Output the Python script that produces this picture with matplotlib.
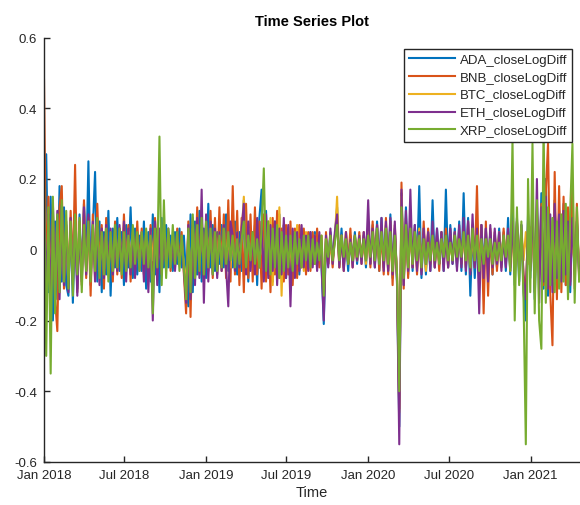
import pandas as pd
import matplotlib.pyplot as plt
import matplotlib.dates as mdates

plt.rcParams['font.family'] = ['Liberation Sans', 'DejaVu Sans']

# log-diff of daily close, every 5 days
dates = pd.date_range('2018-01-01', periods=242, freq='5D')

ada = [0.10, 0.27, -0.12, 0.15, -0.20, 0.08, -0.14, 0.18, -0.09, 0.12, -0.10,
       -0.13, 0.09, -0.15, 0.07, -0.11, 0.10, -0.08, 0.13, -0.06, 0.25, -0.10,
       0.06, 0.22, -0.09, 0.08, -0.12, 0.05, -0.07, 0.11, -0.13, 0.06, -0.05,
       0.09, -0.06, 0.05, -0.10, 0.07, -0.05, 0.12, -0.08, 0.06, -0.07, 0.04,
       -0.06, 0.08, -0.11, 0.05, -0.09, 0.10, -0.07, 0.06, -0.12, 0.09, -0.05,
       0.07, -0.05, 0.04, -0.06, 0.05, -0.04, 0.06, -0.05, 0.04, -0.08, -0.16,
       0.10, -0.12, 0.08, -0.07, 0.11, -0.09, 0.06, -0.08, 0.13, -0.05, 0.07,
       -0.06, 0.05, -0.04, 0.07, -0.05, 0.10, -0.06, 0.04, -0.05, 0.08, -0.07,
       0.05, -0.06, 0.14, 0.08, -0.09, 0.06, -0.05, 0.07, -0.10, 0.09, 0.17,
       -0.08, 0.11, -0.07, 0.06, -0.09, 0.08, -0.05, 0.10, -0.06, 0.07, -0.08,
       0.06, -0.09, 0.05, -0.06, 0.04, -0.07, 0.06, -0.05, 0.03, -0.04, 0.05,
       -0.04, 0.05, -0.03, 0.04, -0.05, -0.21, 0.03, -0.04, 0.05, -0.03, 0.04,
       0.12, -0.04, 0.06, -0.05, 0.03, -0.06, 0.04, -0.03, 0.05, -0.04, 0.03,
       -0.03, 0.04, -0.05, 0.06, -0.04, 0.07, -0.05, 0.08, -0.06, 0.09, -0.05,
       0.07, -0.06, 0.10, -0.08, 0.06, -0.09, -0.50, 0.16, -0.10, 0.12, -0.07,
       0.09, -0.06, 0.07, -0.05, 0.18, -0.08, 0.06, -0.07, 0.05, -0.06, 0.14,
       -0.05, 0.06, -0.04, 0.05, -0.06, 0.17, -0.05, 0.07, -0.04, 0.06, -0.05,
       0.08, -0.06, 0.16, -0.07, 0.09, -0.13, 0.06, -0.08, 0.05, -0.06, 0.07,
       -0.05, 0.06, -0.04, 0.05, -0.07, 0.04, -0.05, 0.06, -0.04, 0.05, -0.06,
       0.09, -0.07, 0.15, -0.10, 0.08, -0.09, 0.07, -0.12, -0.20, 0.10, -0.08,
       0.12, -0.14, 0.10, -0.09, 0.16, -0.11, 0.20, -0.13, 0.09, -0.10, 0.14,
       -0.09, 0.11, -0.08, 0.13, -0.10, 0.09, -0.12, 0.10, -0.07, 0.08, -0.06]

bnb = [0.48, -0.10, 0.15, -0.12, 0.09, -0.14, -0.23, 0.12, 0.18, -0.11, 0.07,
       -0.09, 0.11, -0.07, 0.24, -0.12, 0.08, -0.10, 0.14, -0.08, 0.09, -0.13,
       0.10, -0.08, 0.13, -0.06, 0.07, -0.11, 0.09, -0.07, 0.05, -0.09, 0.08,
       -0.07, 0.06, -0.08, 0.10, -0.05, 0.07, -0.09, 0.05, -0.06, 0.08, -0.05,
       0.06, -0.07, 0.05, -0.08, 0.07, -0.06, 0.09, -0.05, 0.04, -0.07, 0.06,
       -0.04, 0.05, -0.06, 0.04, -0.05, 0.06, -0.04, 0.05, -0.07, -0.18, 0.08,
       -0.19, 0.09, -0.08, 0.12, -0.07, 0.10, -0.09, 0.08, -0.06, 0.11, -0.08,
       0.09, -0.07, 0.12, -0.06, 0.10, -0.08, 0.14, -0.09, 0.18, -0.07, 0.11,
       -0.10, 0.09, -0.12, 0.13, -0.08, 0.10, -0.09, 0.12, -0.07, 0.08, -0.11,
       0.10, -0.09, 0.08, -0.12, 0.09, -0.07, 0.11, -0.08, 0.06, -0.09, 0.07,
       -0.07, 0.08, -0.10, 0.06, -0.08, 0.07, -0.05, 0.06, -0.07, 0.05, -0.06,
       0.05, -0.04, 0.06, -0.05, 0.04, -0.16, 0.05, -0.04, 0.03, -0.05, 0.04,
       0.08, -0.05, 0.04, -0.06, 0.05, -0.04, 0.06, -0.05, 0.04, -0.03, 0.05,
       -0.04, 0.05, -0.03, 0.06, -0.05, 0.08, -0.04, 0.07, -0.06, 0.05, -0.07,
       0.09, -0.07, 0.08, -0.10, 0.07, -0.08, -0.45, 0.19, -0.11, 0.09, -0.08,
       0.07, -0.05, 0.06, -0.07, 0.05, -0.06, 0.08, -0.05, 0.06, -0.04, 0.05,
       -0.05, 0.04, -0.06, 0.05, -0.04, 0.06, -0.05, 0.04, -0.03, 0.05, -0.04,
       0.05, -0.04, 0.06, -0.05, 0.08, -0.06, 0.07, -0.05, 0.18, -0.09, 0.07,
       -0.18, 0.08, -0.13, 0.06, -0.07, 0.05, -0.06, 0.04, -0.05, 0.06, -0.04,
       0.05, -0.06, 0.07, -0.05, 0.08, -0.06, 0.05, -0.07, -0.12, 0.06, -0.05,
       0.08, -0.09, 0.11, -0.07, 0.13, -0.10, 0.16, 0.30, -0.12, -0.27, 0.22,
       -0.14, 0.18, -0.12, 0.15, -0.10, 0.12, -0.09, 0.20, -0.11, 0.13, -0.08]

btc = [0.12, -0.09, 0.08, -0.14, 0.10, -0.07, 0.09, -0.11, 0.06, -0.08, 0.07,
       -0.07, 0.08, -0.06, 0.09, -0.08, 0.05, -0.07, 0.10, -0.05, 0.06, -0.07,
       0.05, -0.04, 0.06, -0.05, 0.04, -0.06, 0.05, -0.04, 0.03, -0.05, 0.04,
       -0.04, 0.05, -0.03, 0.06, -0.04, 0.05, -0.03, 0.04, -0.05, 0.03, -0.04,
       0.04, -0.05, 0.03, -0.04, 0.05, -0.03, 0.04, -0.03, 0.05, -0.04, 0.03,
       -0.02, 0.03, -0.02, 0.02, -0.03, 0.02, -0.03, 0.02, -0.04, -0.10, 0.05,
       -0.09, 0.06, -0.05, 0.07, -0.04, 0.08, -0.06, 0.05, -0.04, 0.06, -0.05,
       0.04, -0.03, 0.05, -0.04, 0.06, -0.03, 0.04, -0.05, 0.03, -0.04, 0.05,
       -0.03, 0.04, 0.15, -0.05, 0.06, -0.04, 0.05, -0.03, 0.04, -0.05, 0.07,
       -0.06, 0.08, -0.07, 0.09, -0.10, 0.06, -0.08, 0.12, -0.13, 0.07, -0.05,
       0.06, -0.08, 0.05, -0.06, 0.07, -0.05, 0.04, -0.06, 0.05, -0.04, 0.03,
       -0.03, 0.04, -0.03, 0.02, -0.04, -0.14, 0.03, -0.04, 0.02, -0.03, 0.03,
       0.15, -0.05, 0.04, -0.03, 0.05, -0.04, 0.03, -0.04, 0.02, -0.03, 0.04,
       -0.03, 0.02, -0.04, 0.05, -0.03, 0.04, -0.02, 0.03, -0.04, 0.05, -0.03,
       0.04, -0.05, 0.03, -0.06, 0.04, -0.07, -0.46, 0.15, -0.08, 0.06, -0.05,
       0.07, -0.04, 0.05, -0.03, 0.06, -0.05, 0.04, -0.06, 0.03, -0.04, 0.05,
       -0.03, 0.02, -0.03, 0.04, -0.02, 0.03, -0.04, 0.02, -0.03, 0.02, -0.03,
       0.06, -0.03, 0.04, -0.05, 0.03, -0.06, 0.04, -0.03, 0.05, -0.04, 0.03,
       -0.02, 0.03, -0.02, 0.02, -0.03, 0.04, -0.02, 0.05, -0.03, 0.04, -0.02,
       0.05, -0.03, 0.04, -0.08, 0.05, -0.04, 0.06, -0.03, 0.05, -0.04, 0.06,
       0.07, -0.10, 0.05, -0.08, 0.06, -0.05, 0.12, -0.07, 0.08, -0.09, 0.05,
       -0.06, 0.07, -0.05, 0.06, -0.04, 0.05, -0.06, 0.04, -0.05, 0.06, -0.04]

eth = [0.15, -0.12, 0.10, -0.16, 0.13, -0.08, 0.11, -0.14, 0.09, -0.10, 0.08,
       -0.12, 0.09, -0.10, 0.08, -0.13, 0.06, -0.09, 0.12, -0.07, 0.10, -0.08,
       0.08, -0.09, 0.07, -0.10, 0.06, -0.08, 0.07, -0.05, 0.06, -0.07, 0.05,
       -0.06, 0.07, -0.05, 0.08, -0.09, 0.06, -0.07, 0.05, -0.08, 0.04, -0.06,
       0.05, -0.09, 0.04, -0.12, 0.06, -0.20, 0.08, -0.10, 0.06, -0.07, 0.05,
       -0.04, 0.06, -0.05, 0.04, -0.06, 0.05, -0.04, 0.03, -0.06, -0.15, 0.07,
       -0.14, 0.07, -0.10, 0.09, -0.08, 0.17, -0.15, 0.10, -0.09, 0.08, -0.07,
       0.06, -0.08, 0.05, -0.06, 0.07, -0.05, -0.16, 0.08, 0.04, -0.06, 0.05,
       -0.05, 0.06, 0.13, -0.07, 0.08, -0.06, 0.05, -0.07, 0.09, -0.05, 0.08,
       -0.09, 0.10, -0.08, 0.07, -0.06, 0.08, -0.10, 0.06, -0.07, 0.09, -0.08,
       0.07, -0.16, 0.06, -0.08, 0.05, -0.06, 0.07, -0.05, 0.04, -0.06, 0.05,
       -0.05, 0.04, -0.06, 0.05, -0.04, -0.20, 0.04, -0.05, 0.06, -0.04, 0.05,
       0.10, -0.05, 0.04, -0.06, 0.05, -0.04, 0.03, -0.05, 0.04, -0.03, 0.04,
       -0.04, 0.05, -0.03, 0.14, -0.04, 0.06, -0.05, 0.07, -0.04, 0.09, -0.06,
       0.08, -0.06, 0.09, -0.07, 0.08, -0.10, -0.55, 0.17, -0.10, 0.11, -0.06,
       0.17, -0.05, 0.07, -0.06, 0.05, -0.07, 0.06, -0.04, 0.05, -0.06, 0.08,
       -0.05, 0.06, -0.04, 0.05, -0.06, 0.04, -0.05, 0.06, -0.04, 0.05, -0.06,
       0.07, -0.05, 0.09, -0.06, 0.08, -0.07, 0.10, -0.05, 0.06, -0.18, 0.07,
       -0.08, 0.06, -0.09, 0.07, -0.05, 0.06, -0.04, 0.05, -0.06, 0.04, -0.05,
       0.06, -0.05, 0.08, -0.07, 0.09, -0.06, 0.07, -0.09, -0.14, 0.08, -0.06,
       0.14, -0.12, 0.20, -0.15, 0.12, -0.09, 0.15, -0.11, 0.10, -0.12, 0.13,
       -0.08, 0.10, -0.09, 0.11, -0.07, 0.08, -0.10, 0.09, -0.06, 0.08, -0.07]

xrp = [0.20, -0.30, 0.12, -0.35, 0.15, -0.18, 0.10, -0.12, 0.14, -0.09, 0.11,
       -0.11, 0.08, -0.13, 0.10, -0.07, 0.09, -0.12, 0.07, -0.06, 0.08, -0.09,
       0.07, -0.06, 0.09, -0.08, 0.05, -0.07, 0.06, -0.09, 0.05, -0.06, 0.07,
       -0.05, 0.06, -0.07, 0.05, -0.06, 0.04, -0.05, 0.07, -0.04, 0.05, -0.06,
       0.05, -0.04, 0.06, -0.05, 0.04, -0.18, 0.06, -0.05, 0.32, -0.10, 0.14,
       -0.08, 0.06, -0.05, 0.07, -0.04, 0.05, -0.06, 0.04, -0.05, -0.14, 0.06,
       -0.12, 0.10, -0.08, 0.07, -0.06, 0.09, -0.07, 0.08, -0.05, 0.06, -0.07,
       0.05, -0.06, 0.04, -0.05, 0.06, -0.04, 0.05, -0.03, 0.04, -0.05, 0.03,
       -0.04, 0.03, 0.08, -0.05, 0.04, -0.03, 0.05, -0.04, 0.03, -0.05, 0.06,
       0.23, -0.06, 0.08, -0.07, 0.06, -0.05, 0.07, -0.08, 0.05, -0.06, 0.04,
       -0.05, 0.04, -0.06, 0.05, -0.04, 0.03, -0.05, 0.04, -0.03, 0.04, -0.05,
       0.03, -0.04, 0.02, -0.03, 0.04, -0.13, 0.03, -0.02, 0.04, -0.03, 0.02,
       0.07, -0.03, 0.04, -0.02, 0.03, -0.04, 0.02, -0.03, 0.04, -0.02, 0.03,
       -0.02, 0.03, -0.03, 0.04, -0.02, 0.05, -0.03, 0.06, -0.04, 0.05, -0.03,
       0.06, -0.04, 0.05, -0.06, 0.04, -0.07, -0.40, 0.12, -0.08, 0.07, -0.05,
       0.06, -0.04, 0.05, -0.03, 0.04, -0.05, 0.03, -0.04, 0.02, -0.03, 0.04,
       -0.03, 0.02, -0.04, 0.03, -0.02, 0.04, -0.03, 0.02, -0.03, 0.04, -0.02,
       0.03, -0.02, 0.05, -0.03, 0.04, -0.05, 0.06, -0.03, 0.04, -0.06, 0.03,
       -0.04, 0.03, -0.02, 0.03, -0.04, 0.02, -0.03, 0.02, -0.03, 0.04, -0.02,
       0.04, -0.06, 0.31, -0.20, 0.12, -0.10, 0.08, -0.15, -0.55, 0.20, -0.12,
       0.30, -0.18, 0.14, -0.20, -0.28, 0.35, -0.15, 0.12, -0.10, 0.09, -0.12,
       0.08, -0.11, 0.10, -0.09, 0.13, -0.14, 0.11, 0.30, -0.15, 0.12, -0.09]

names = ['ADA_closeLogDiff', 'BNB_closeLogDiff', 'BTC_closeLogDiff',
         'ETH_closeLogDiff', 'XRP_closeLogDiff']
colors = ['#0072BD', '#D95319', '#EDB120', '#7E2F8E', '#77AC30']

df = pd.DataFrame({'ADA': ada, 'BNB': bnb, 'BTC': btc, 'ETH': eth, 'XRP': xrp},
                  index=dates)

fig = plt.figure(figsize=(5.8, 5.06), dpi=100)
ax = fig.add_axes([44 / 580, 43 / 506, 536 / 580, 424.5 / 506])

for col, name, c in zip(df.columns, names, colors):
    ax.plot(df.index, df[col], color=c, lw=1.5, label=name)

ax.set_xlim(pd.Timestamp('2018-01-01'), pd.Timestamp('2021-04-22'))
ax.set_ylim(-0.6, 0.6)
ax.set_yticks([-0.6, -0.4, -0.2, 0, 0.2, 0.4, 0.6])
ax.set_yticklabels(['-0.6', '-0.4', '-0.2', '0', '0.2', '0.4', '0.6'])
ax.xaxis.set_major_locator(mdates.MonthLocator(bymonth=[1, 7]))
ax.xaxis.set_major_formatter(mdates.DateFormatter('%b %Y'))

for s in ['top', 'right']:
    ax.spines[s].set_visible(False)
for s in ['left', 'bottom']:
    ax.spines[s].set_color('#262626')
    ax.spines[s].set_linewidth(1.0)
ax.tick_params(direction='in', length=4, width=1, colors='#262626',
               labelsize=9.5, pad=5)

ax.set_title('Time Series Plot', fontsize=10.5, fontweight='bold',
             color='black', pad=9)
ax.set_xlabel('Time', fontsize=10.5, color='#262626', labelpad=3)

leg = ax.legend(loc='upper right', bbox_to_anchor=(0.985, 0.973), fontsize=9.5,
                frameon=True, fancybox=False, framealpha=1,
                handlelength=3.5, handletextpad=0.35, labelspacing=0.42,
                borderpad=0.35, borderaxespad=0)
leg.get_frame().set_edgecolor('#262626')
leg.get_frame().set_linewidth(1.0)
for t in leg.get_texts():
    t.set_color('#262626')
for h in leg.legend_handles:
    h.set_linewidth(1.5)

fig.savefig('out.png', dpi=100)
